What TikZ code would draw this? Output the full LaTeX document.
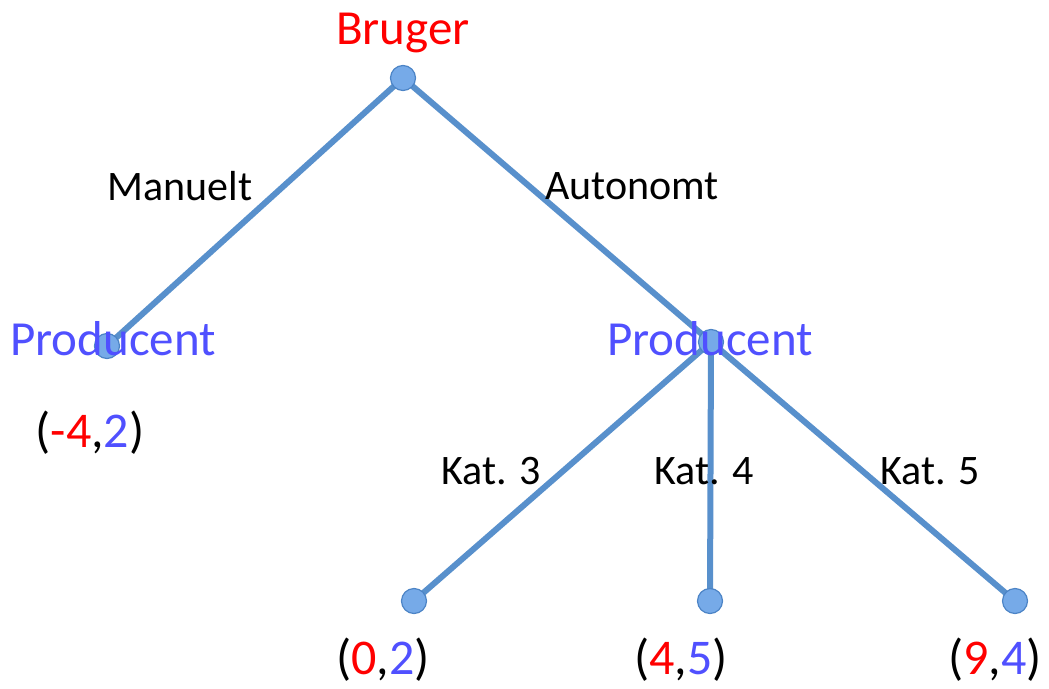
\documentclass[tikz,border=0pt]{standalone}
\usepackage{fontspec}
\setmainfont{Carlito}
\usetikzlibrary{backgrounds}
\definecolor{edgeblue}{RGB}{88,144,204}
\definecolor{dotfill}{RGB}{118,170,232}
\definecolor{dotline}{RGB}{76,132,198}
\definecolor{pred}{RGB}{255,0,0}
\definecolor{pblue}{RGB}{80,80,255}
\tikzset{
  dot/.style={circle, draw=dotline, line width=1.2pt, fill=dotfill, inner sep=0pt, minimum size=25pt},
  branch/.style={draw=edgeblue, line width=6pt},
  player/.style={font=\fontsize{49}{55}\selectfont, inner sep=0pt},
  act/.style={font=\fontsize{42}{48}\selectfont, inner sep=0pt, text=black},
  payoff/.style={font=\fontsize{50}{56}\selectfont, inner sep=0pt, text=black},
}
\newcommand{\pay}[2]{(\textcolor{pred}{#1},\textcolor{pblue}{#2})}
\begin{document}
\begin{tikzpicture}[x=1pt, y=-1pt]
  \useasboundingbox (0,0) rectangle (1049,688);

  % decision points
  \node[dot] (root) at (403,78) {};
  \node[dot] (pl)   at (107,346) {};
  \node[dot] (pr)   at (711,342) {};
  \node[dot] (l3)   at (414,601) {};
  \node[dot] (l4)   at (710,601) {};
  \node[dot] (l5)   at (1015,601) {};

  % white page and branches behind the dots
  \begin{scope}[on background layer]
    \fill[white] (0,0) rectangle (1049,688);
    \draw[branch] (root.center) -- (pl.center);
    \draw[branch] (root.center) -- (pr.center);
    \draw[branch] (pr.center) -- (l3.center);
    \draw[branch] (pr.center) -- (l4.center);
    \draw[branch] (pr.center) -- (l5.center);
  \end{scope}

  % players
  \node[player, text=pred]  (tBruger) at (403,33)  {Bruger};
  \node[player, text=pblue] (tProdL)  at (113,339) {Producent};
  \node[player, text=pblue] (tProdR)  at (710,339) {Producent};

  % actions
  \node[act] (aMan)  at (180,186) {Manuelt};
  \node[act] (aAut)  at (632,186) {Autonomt};
  \node[act] (aK3)   at (491,471) {Kat. 3};
  \node[act] (aK4)   at (704,471) {Kat. 4};
  \node[act] (aK5)   at (930,471) {Kat. 5};

  % payoffs
  \node[payoff] (uL)  at (90,433)  {\pay{-4}{2}};
  \node[payoff] (u3)  at (383,660) {\pay{0}{2}};
  \node[payoff] (u4)  at (681,660) {\pay{4}{5}};
  \node[payoff] (u5)  at (995,660) {\pay{9}{4}};
\end{tikzpicture}
\end{document}
